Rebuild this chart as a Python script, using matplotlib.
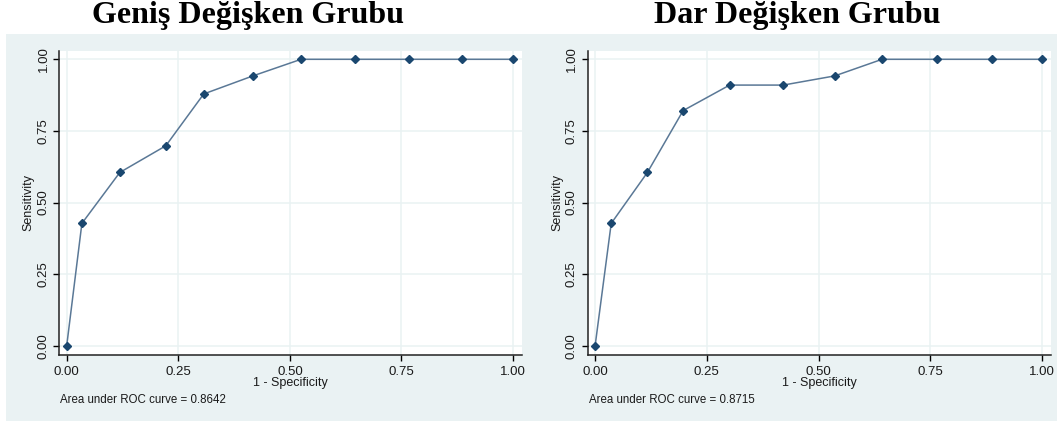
import matplotlib
matplotlib.use("Agg")
import matplotlib.pyplot as plt

W, H = 1060, 425

# ROC points
titles = ["Geniş Değişken Grubu", "Dar Değişken Grubu"]
fpr_wide = [0.0, 0.034, 0.119, 0.222, 0.307, 0.417, 0.525, 0.645, 0.766, 0.886, 1.0]
tpr_wide = [0.0, 0.427, 0.605, 0.698, 0.879, 0.942, 1.0, 1.0, 1.0, 1.0, 1.0]
fpr_narrow = [0.0, 0.036, 0.117, 0.197, 0.301, 0.421, 0.536, 0.642, 0.764, 0.887, 1.0]
tpr_narrow = [0.0, 0.427, 0.605, 0.821, 0.910, 0.910, 0.942, 1.0, 1.0, 1.0, 1.0]
auc_values = ["0.8642", "0.8715"]
ticks = [0.0, 0.25, 0.5, 0.75, 1.0]
tick_labels = ["0.00", "0.25", "0.50", "0.75", "1.00"]

BG = "#eaf2f3"
NAVY = "#1a476f"
LINE = "#5a7896"

plt.rcParams["font.family"] = ["Liberation Sans", "DejaVu Sans"]


def px_axes(fig, x0, y0, x1, y1, **kw):
    # pixel box (top-left origin) -> figure fraction axes
    return fig.add_axes([x0 / W, 1 - y1 / H, (x1 - x0) / W, (y1 - y0) / H], **kw)


fig = plt.figure(figsize=(W / 100, H / 100), dpi=100)
fig.patch.set_facecolor("white")

# light blue-grey graph region behind both plots
bg = px_axes(fig, 6, 34, 1057, 421, zorder=-5)
bg.set_facecolor(BG)
bg.set_xticks([])
bg.set_yticks([])
for s in bg.spines.values():
    s.set_visible(False)

panels = [(fpr_wide, tpr_wide), (fpr_narrow, tpr_narrow)]
lefts = [59.3, 587.7]
rights = [522, 1051]
title_x = [248, 797]

for i, (fx, ty) in enumerate(panels):
    ax = px_axes(fig, lefts[i], 51, rights[i], 354.5)
    ax.set_facecolor("white")
    ax.set_xlim(-0.0166, 1.020)
    ax.set_ylim(-0.0307, 1.029)

    ax.set_xticks(ticks)
    ax.set_xticklabels(tick_labels)
    ax.set_yticks(ticks)
    ax.set_yticklabels(tick_labels, rotation=90, va="center")
    ax.tick_params(direction="out", length=4, width=1, colors="black", labelsize=9.5,
                   labelcolor="#1a1a1a", pad=3)
    ax.tick_params(axis="x", pad=4)
    ax.grid(True, color=BG, lw=1.1)
    ax.set_axisbelow(True)

    for s in ["top", "right"]:
        ax.spines[s].set_visible(False)
    for s in ["left", "bottom"]:
        ax.spines[s].set_color("#222222")
        ax.spines[s].set_linewidth(1.1)

    ax.plot(fx, ty, color=LINE, lw=1.1, zorder=3)
    ax.plot(fx, ty, ls="none", marker="D", ms=4, color=NAVY, zorder=4)

    ax.set_xlabel("1 - Specificity", fontsize=9, labelpad=-0.5, color="#1a1a1a")
    ax.set_ylabel("Sensitivity", fontsize=9, labelpad=2, color="#1a1a1a")

    fig.text((lefts[i] + 1) / W, 1 - 400 / H, f"Area under ROC curve = {auc_values[i]}",
             fontsize=8.3, va="center", ha="left", color="#1a1a1a")
    fig.text(title_x[i] / W, 1 - 16 / H, titles[i], fontsize=23, fontweight="bold",
             family=["Liberation Serif", "DejaVu Serif"], ha="center", va="center")

fig.savefig("out.png", dpi=100, facecolor="white")
